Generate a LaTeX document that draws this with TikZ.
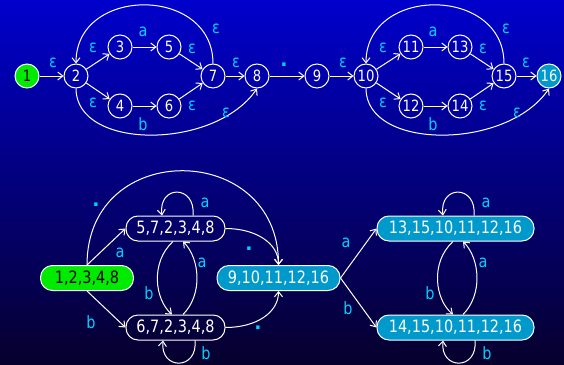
\documentclass[tikz,border=0pt]{standalone}
\usepackage{fontspec}
\setmainfont{DejaVu Sans}[FakeStretch=0.85]
\newfontfamily\dotfont{DejaVu Sans}
\usetikzlibrary{arrows.meta}
\definecolor{lab}{RGB}{0,210,255}
\definecolor{grn}{RGB}{0,235,0}
\definecolor{acc}{RGB}{0,153,204}
\definecolor{bgtop}{RGB}{0,0,204}
\definecolor{bgmid}{RGB}{0,0,150}
\definecolor{bgbot}{RGB}{6,0,45}
\begin{document}
\begin{tikzpicture}[x=1pt,y=-1pt,
  every node/.style={font=\fontsize{17}{20}\selectfont},
  st/.style={circle,draw=white,line width=1pt,minimum size=24pt,inner sep=0pt,
    text=white,font=\fontsize{15.5}{18}\selectfont},
  setbox/.style={rectangle,rounded corners=12pt,draw=white,line width=1pt,
    minimum height=25pt,inner sep=0pt,text=white},
  tr/.style={draw=white,line width=1pt,-{Straight Barb[length=5pt,width=8pt]}},
  lbl/.style={text=lab,inner sep=0pt},
  dotlbl/.style={text=lab,inner sep=0pt,font=\dotfont\bfseries\fontsize{19}{20}\selectfont},
]
% background
\shade[top color=bgtop,middle color=bgmid,bottom color=bgbot] (0,0) rectangle (564,364);
\useasboundingbox (0,0) rectangle (564,364);

% ---------- NFA ----------
\node[st,fill=grn,text=black] (n1) at (27,76) {1};
\node[st] (n2) at (76,76) {2};
\node[st] (n3) at (120,47) {3};
\node[st] (n5) at (169,47) {5};
\node[st] (n4) at (120,106) {4};
\node[st] (n6) at (169,106) {6};
\node[st] (n7) at (213,76) {7};
\node[st] (n8) at (257,76) {8};
\node[st] (n9) at (317,76) {9};
\node[st] (n10) at (366,76) {10};
\node[st] (n11) at (411,47) {11};
\node[st] (n13) at (460,47) {13};
\node[st] (n12) at (411,106) {12};
\node[st] (n14) at (460,106) {14};
\node[st] (n15) at (504,76) {15};
\node[st,fill=acc] (n16) at (549,76) {16};

\draw[tr] (n1) -- (n2);
\draw[tr] (n2) -- (n3);
\draw[tr] (n3) -- (n5);
\draw[tr] (n5) -- (n7);
\draw[tr] (n2) -- (n4);
\draw[tr] (n4) -- (n6);
\draw[tr] (n6) -- (n7);
\draw[tr] (n7) -- (n8);
\draw[tr] (n8) -- (n9);
\draw[tr] (n9) -- (n10);
\draw[tr] (n10) -- (n11);
\draw[tr] (n11) -- (n13);
\draw[tr] (n13) -- (n15);
\draw[tr] (n10) -- (n12);
\draw[tr] (n12) -- (n14);
\draw[tr] (n14) -- (n15);
\draw[tr] (n15) -- (n16);
\draw[tr] (n7.north) .. controls +(0,-78) and +(0,-78) .. (n2.north);
\draw[tr] (n2.south) .. controls +(0,62) and +(-42,62) .. (n8.south);
\draw[tr] (n15.north) .. controls +(0,-78) and +(0,-78) .. (n10.north);
\draw[tr] (n10.south) .. controls +(0,62) and +(-42,62) .. (n16.south);

\node[lbl] (e12) at (53,63) {ε};
\node[lbl] (a35) at (143,32) {a};
\node[lbl] (e23) at (93,48) {ε};
\node[lbl] (e57) at (192,49) {ε};
\node[lbl] (e72) at (216,29) {ε};
\node[lbl] (e78) at (236,63) {ε};
\node[dotlbl] (d89) at (284,65) {.};
\node[lbl] (e24) at (93,103) {ε};
\node[lbl] (e67) at (192,106) {ε};
\node[lbl] (b46) at (143,124) {b};
\node[lbl] (e28) at (226,113) {ε};
\node[lbl] (e910) at (343,63) {ε};
\node[lbl] (e1011) at (383,48) {ε};
\node[lbl] (a1113) at (433,32) {a};
\node[lbl] (e1315) at (483,49) {ε};
\node[lbl] (e1510) at (506,29) {ε};
\node[lbl] (e1516) at (526,63) {ε};
\node[lbl] (e1012) at (383,103) {ε};
\node[lbl] (e1415) at (483,106) {ε};
\node[lbl] (b1214) at (433,124) {b};
\node[lbl] (e1016) at (517,113) {ε};

% ---------- DFA ----------
\node[setbox,fill=grn,text=black,minimum width=93pt] (A) at (87,278) {1,2,3,4,8};
\node[setbox,minimum width=99pt] (B) at (175.5,228.5) {5,7,2,3,4,8};
\node[setbox,minimum width=99pt] (C) at (175.5,327.5) {6,7,2,3,4,8};
\node[setbox,fill=acc,minimum width=123pt] (D) at (278.5,278) {9,10,11,12,16};
\node[setbox,fill=acc,minimum width=157pt] (E) at (455.5,228.5) {13,15,10,11,12,16};
\node[setbox,fill=acc,minimum width=157pt] (F) at (455.5,327.5) {14,15,10,11,12,16};

\draw[tr] (A.north) -- (B.west);
\draw[tr] (A.south) -- (C.west);
\draw[tr] (A.north) .. controls +(0,-127) and +(0,-124) .. (D.north);
\draw[tr] (B.east) .. controls +(30,0) and +(0,-22) .. (D.north);
\draw[tr] (C.east) .. controls +(30,0) and +(0,22) .. (D.south);
\draw[tr] ([xshift=17.5pt]B.north) .. controls +(3,-31) and +(-4,-31) .. ([xshift=-13.5pt]B.north);
\draw[tr] ([xshift=19.5pt]C.south) .. controls +(3,30) and +(-3,30) .. ([xshift=-12.5pt]C.south);
\draw[tr] ([xshift=-2.5pt]B.south) .. controls +(-23,21) and +(-17,-15) .. ([xshift=-3.5pt]C.north);
\draw[tr] ([xshift=7.5pt]C.north) .. controls +(20,-20) and +(17,17) .. ([xshift=7.5pt]B.south);
\draw[tr] (D.east) -- (E.west);
\draw[tr] (D.east) -- (F.west);
\draw[tr] ([xshift=18.5pt]E.north) .. controls +(3,-31) and +(-4,-31) .. ([xshift=-12.5pt]E.north);
\draw[tr] ([xshift=19.5pt]F.south) .. controls +(3,30) and +(-3,30) .. ([xshift=-12.5pt]F.south);
\draw[tr] ([xshift=-2.5pt]E.south) .. controls +(-23,21) and +(-18,-15) .. ([xshift=-2.5pt]F.north);
\draw[tr] ([xshift=7.5pt]F.north) .. controls +(20,-20) and +(17,17) .. ([xshift=7.5pt]E.south);

\node[lbl] (lAB) at (120,253) {a};
\node[lbl] (lAC) at (91,322) {b};
\node[dotlbl] (lAD) at (96,205) {.};
\node[lbl] (lBB) at (205,203) {a};
\node[dotlbl] (lBD) at (249,249) {.};
\node[dotlbl] (lCD) at (258,328) {.};
\node[lbl] (lBC) at (149,293) {b};
\node[lbl] (lCB) at (202,263) {a};
\node[lbl] (lCC) at (206,353) {b};
\node[lbl] (lDE) at (346,243) {a};
\node[lbl] (lDF) at (348,308) {b};
\node[lbl] (lEE) at (486,203) {a};
\node[lbl] (lEF) at (430,293) {b};
\node[lbl] (lFE) at (483,263) {a};
\node[lbl] (lFF) at (487,353) {b};
\end{tikzpicture}
\end{document}
